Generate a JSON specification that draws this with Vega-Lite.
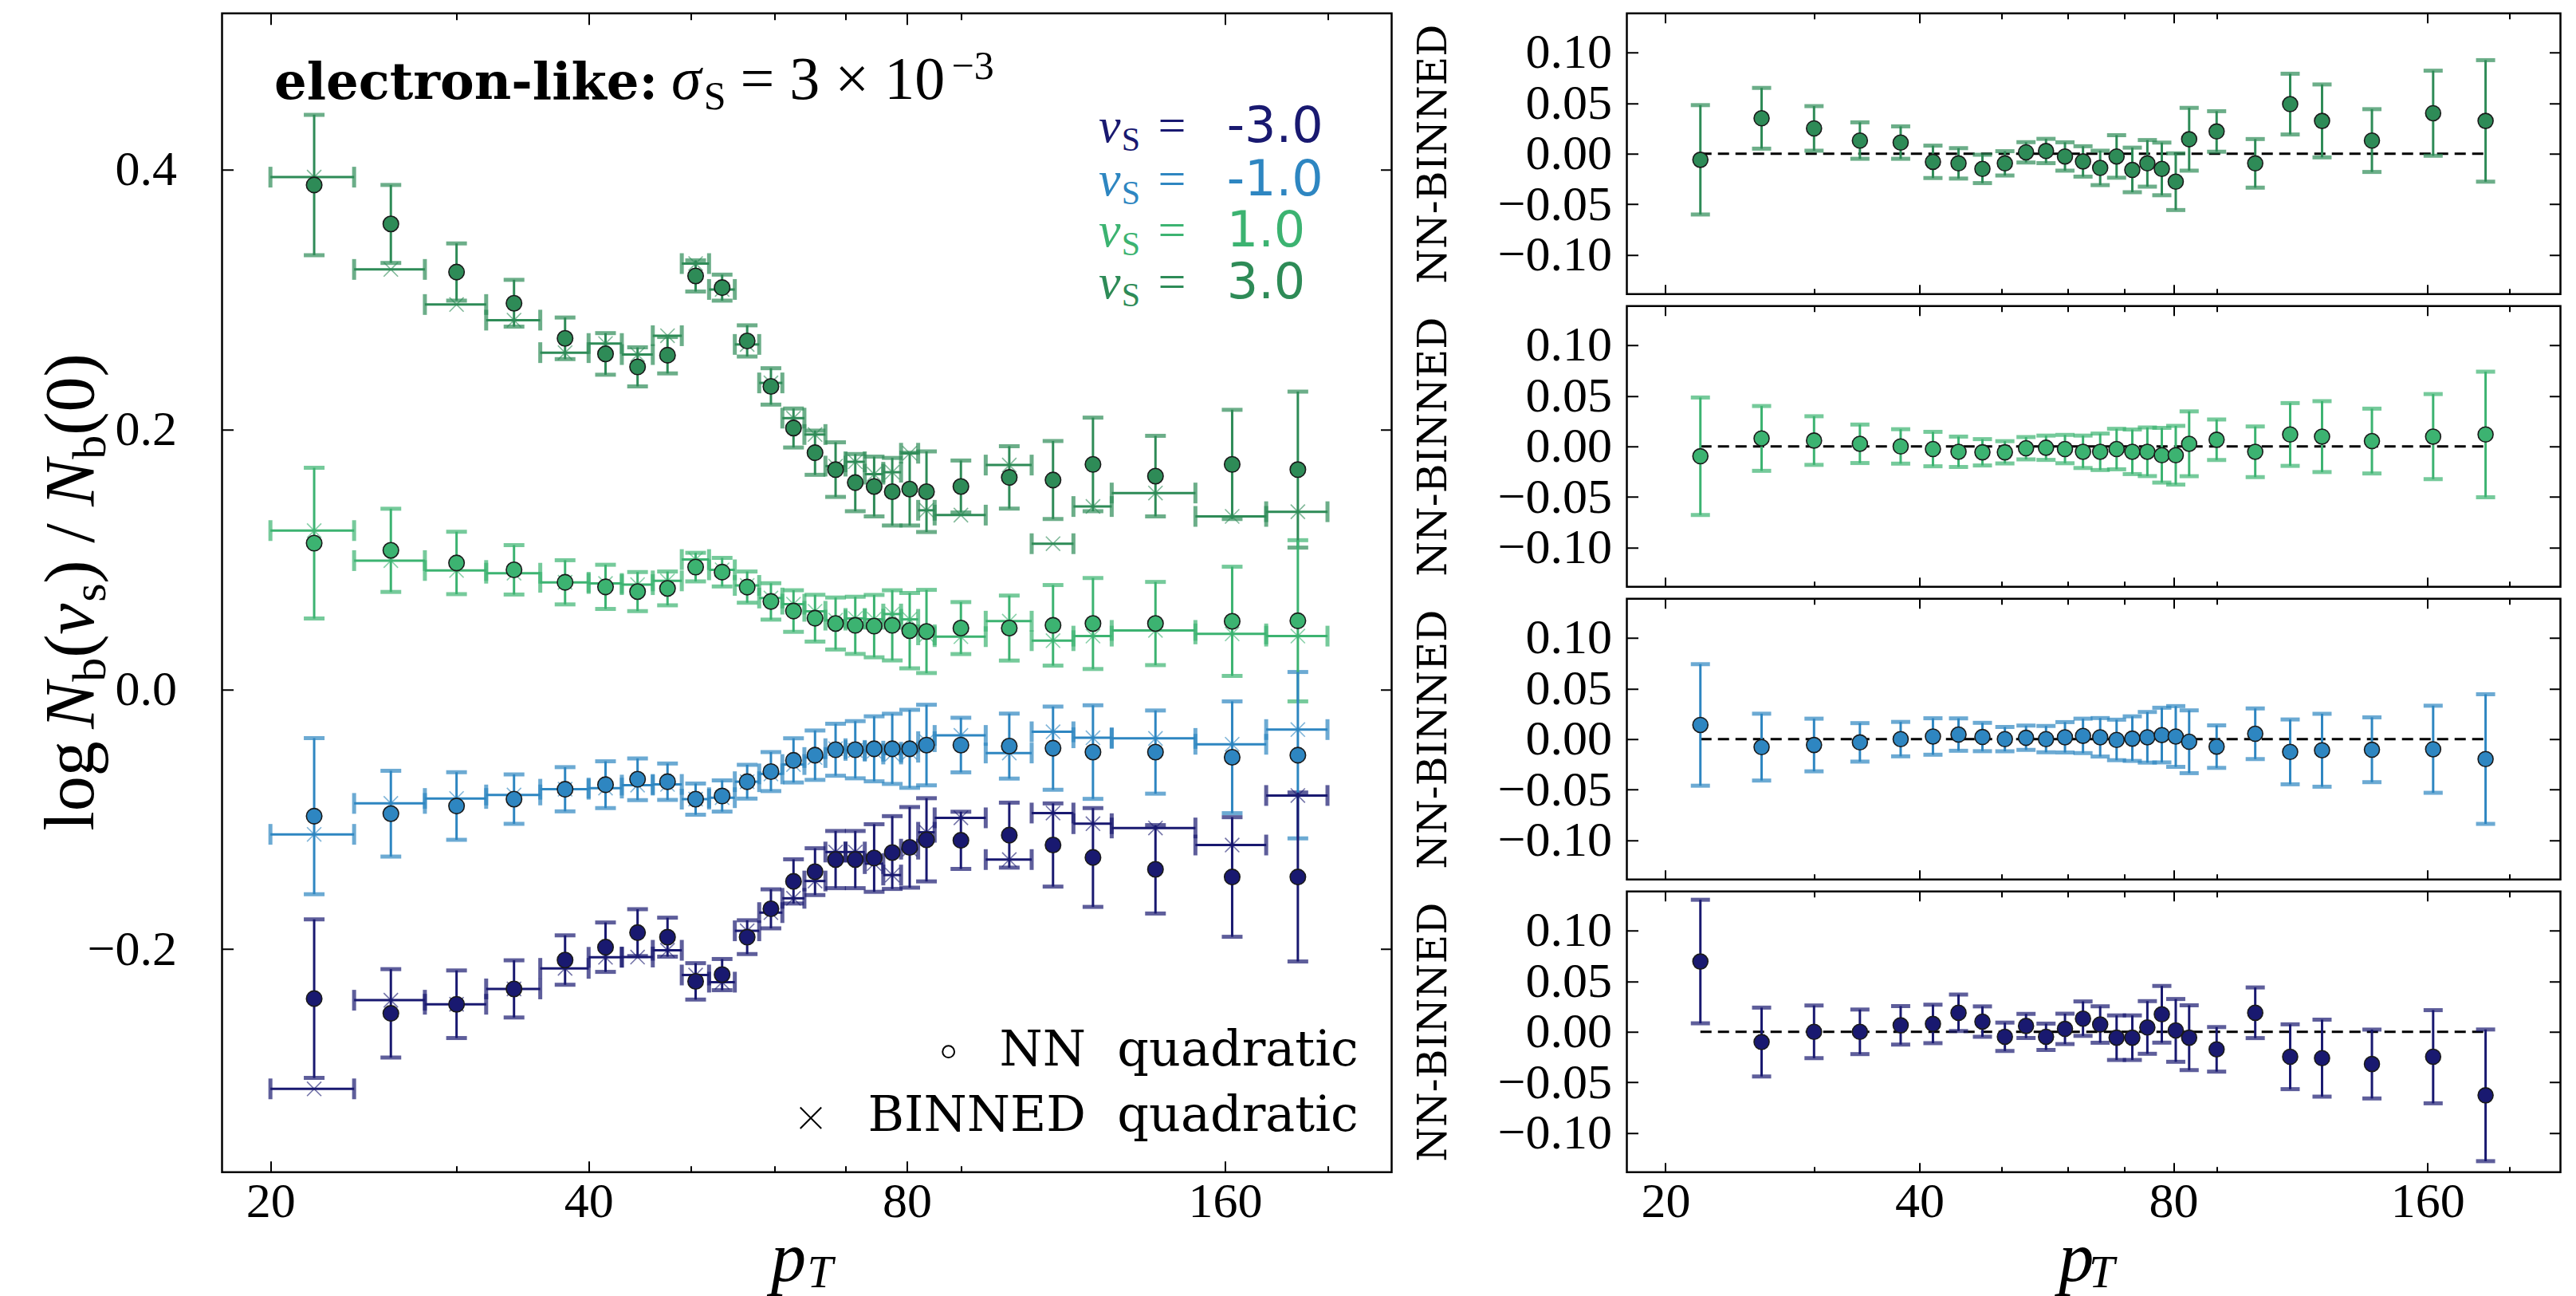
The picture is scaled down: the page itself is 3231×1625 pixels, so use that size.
{
"$schema":"https://vega.github.io/schema/vega-lite/v6.json",
"autosize":{"type":"pad"},
"padding":{"left":45.5,"top":13.75,"right":0,"bottom":0},
"background":"white",
"config":{"view":{"stroke":"black","strokeWidth":2.5}},
"datasets":{"d":[
{"s":"3.0","pt":22,"hw":2,"nn":0.388,"bin":0.394,"d":-0.006,"e":0.054},
{"s":"3.0","pt":26,"hw":2,"nn":0.358,"bin":0.323,"d":0.035,"e":0.030},
{"s":"3.0","pt":30,"hw":2,"nn":0.321,"bin":0.296,"d":0.025,"e":0.022},
{"s":"3.0","pt":34,"hw":2,"nn":0.297,"bin":0.284,"d":0.013,"e":0.018},
{"s":"3.0","pt":38,"hw":2,"nn":0.270,"bin":0.259,"d":0.011,"e":0.016},
{"s":"3.0","pt":41.5,"hw":1.5,"nn":0.258,"bin":0.266,"d":-0.008,"e":0.016},
{"s":"3.0","pt":44.5,"hw":1.5,"nn":0.248,"bin":0.2575,"d":-0.0095,"e":0.015},
{"s":"3.0","pt":47.5,"hw":1.5,"nn":0.257,"bin":0.272,"d":-0.015,"e":0.014},
{"s":"3.0","pt":50.5,"hw":1.5,"nn":0.318,"bin":0.3275,"d":-0.0095,"e":0.012},
{"s":"3.0","pt":53.5,"hw":1.5,"nn":0.309,"bin":0.3076,"d":0.0014,"e":0.010},
{"s":"3.0","pt":56.5,"hw":1.5,"nn":0.268,"bin":0.2653,"d":0.0027,"e":0.012},
{"s":"3.0","pt":59.5,"hw":1.5,"nn":0.233,"bin":0.2357,"d":-0.0027,"e":0.014},
{"s":"3.0","pt":62.5,"hw":1.5,"nn":0.201,"bin":0.2086,"d":-0.0076,"e":0.015},
{"s":"3.0","pt":65.5,"hw":1.5,"nn":0.182,"bin":0.196,"d":-0.014,"e":0.017},
{"s":"3.0","pt":68.5,"hw":1.5,"nn":0.169,"bin":0.1717,"d":-0.0027,"e":0.021},
{"s":"3.0","pt":71.5,"hw":1.5,"nn":0.159,"bin":0.175,"d":-0.016,"e":0.022},
{"s":"3.0","pt":74.5,"hw":1.5,"nn":0.156,"bin":0.1655,"d":-0.0095,"e":0.023},
{"s":"3.0","pt":77.5,"hw":1.5,"nn":0.152,"bin":0.167,"d":-0.015,"e":0.026},
{"s":"3.0","pt":80.5,"hw":1.5,"nn":0.154,"bin":0.1816,"d":-0.0276,"e":0.028},
{"s":"3.0","pt":83.5,"hw":1.5,"nn":0.152,"bin":0.1377,"d":0.0143,"e":0.031},
{"s":"3.0","pt":90,"hw":5,"nn":0.156,"bin":0.134,"d":0.022,"e":0.020},
{"s":"3.0","pt":100,"hw":5,"nn":0.163,"bin":0.1725,"d":-0.0095,"e":0.024},
{"s":"3.0","pt":110,"hw":5,"nn":0.161,"bin":0.112,"d":0.049,"e":0.030},
{"s":"3.0","pt":120,"hw":5,"nn":0.173,"bin":0.1406,"d":0.0324,"e":0.036},
{"s":"3.0","pt":137.5,"hw":12.5,"nn":0.164,"bin":0.151,"d":0.013,"e":0.031},
{"s":"3.0","pt":162.5,"hw":12.5,"nn":0.173,"bin":0.133,"d":0.040,"e":0.042},
{"s":"3.0","pt":187.5,"hw":12.5,"nn":0.169,"bin":0.1366,"d":0.0324,"e":0.060},
{"s":"1.0","pt":22,"hw":2,"nn":0.1124,"bin":0.1221,"d":-0.0097,"e":0.058},
{"s":"1.0","pt":26,"hw":2,"nn":0.1069,"bin":0.099,"d":0.0079,"e":0.032},
{"s":"1.0","pt":30,"hw":2,"nn":0.0972,"bin":0.0914,"d":0.0058,"e":0.024},
{"s":"1.0","pt":34,"hw":2,"nn":0.0919,"bin":0.0893,"d":0.0026,"e":0.019},
{"s":"1.0","pt":38,"hw":2,"nn":0.0823,"bin":0.0823,"d":0.0,"e":0.017},
{"s":"1.0","pt":41.5,"hw":1.5,"nn":0.0788,"bin":0.0814,"d":-0.0026,"e":0.017},
{"s":"1.0","pt":44.5,"hw":1.5,"nn":0.0752,"bin":0.0805,"d":-0.0053,"e":0.015},
{"s":"1.0","pt":47.5,"hw":1.5,"nn":0.0776,"bin":0.0834,"d":-0.0058,"e":0.013},
{"s":"1.0","pt":50.5,"hw":1.5,"nn":0.094,"bin":0.0998,"d":-0.0058,"e":0.011},
{"s":"1.0","pt":53.5,"hw":1.5,"nn":0.0901,"bin":0.0919,"d":-0.0018,"e":0.011},
{"s":"1.0","pt":56.5,"hw":1.5,"nn":0.0786,"bin":0.0799,"d":-0.0013,"e":0.012},
{"s":"1.0","pt":59.5,"hw":1.5,"nn":0.0676,"bin":0.0702,"d":-0.0026,"e":0.014},
{"s":"1.0","pt":62.5,"hw":1.5,"nn":0.0602,"bin":0.0655,"d":-0.0053,"e":0.016},
{"s":"1.0","pt":65.5,"hw":1.5,"nn":0.0547,"bin":0.06,"d":-0.0053,"e":0.018},
{"s":"1.0","pt":68.5,"hw":1.5,"nn":0.0506,"bin":0.0532,"d":-0.0026,"e":0.020},
{"s":"1.0","pt":71.5,"hw":1.5,"nn":0.0492,"bin":0.0545,"d":-0.0053,"e":0.022},
{"s":"1.0","pt":74.5,"hw":1.5,"nn":0.0486,"bin":0.0539,"d":-0.0053,"e":0.024},
{"s":"1.0","pt":77.5,"hw":1.5,"nn":0.0492,"bin":0.0579,"d":-0.0087,"e":0.027},
{"s":"1.0","pt":80.5,"hw":1.5,"nn":0.0451,"bin":0.0538,"d":-0.0087,"e":0.029},
{"s":"1.0","pt":83.5,"hw":1.5,"nn":0.0445,"bin":0.0419,"d":0.0026,"e":0.032},
{"s":"1.0","pt":90,"hw":5,"nn":0.0471,"bin":0.0405,"d":0.0066,"e":0.020},
{"s":"1.0","pt":100,"hw":5,"nn":0.0471,"bin":0.0524,"d":-0.0053,"e":0.025},
{"s":"1.0","pt":110,"hw":5,"nn":0.0492,"bin":0.0374,"d":0.0118,"e":0.031},
{"s":"1.0","pt":120,"hw":5,"nn":0.0506,"bin":0.0409,"d":0.0097,"e":0.035},
{"s":"1.0","pt":137.5,"hw":12.5,"nn":0.0506,"bin":0.0453,"d":0.0053,"e":0.032},
{"s":"1.0","pt":162.5,"hw":12.5,"nn":0.0523,"bin":0.0426,"d":0.0097,"e":0.042},
{"s":"1.0","pt":187.5,"hw":12.5,"nn":0.0527,"bin":0.0409,"d":0.0118,"e":0.062},
{"s":"-1.0","pt":22,"hw":2,"nn":-0.0976,"bin":-0.1116,"d":0.014,"e":0.060},
{"s":"-1.0","pt":26,"hw":2,"nn":-0.0957,"bin":-0.0878,"d":-0.0079,"e":0.033},
{"s":"-1.0","pt":30,"hw":2,"nn":-0.0898,"bin":-0.084,"d":-0.0058,"e":0.026},
{"s":"-1.0","pt":34,"hw":2,"nn":-0.0845,"bin":-0.0813,"d":-0.0032,"e":0.019},
{"s":"-1.0","pt":38,"hw":2,"nn":-0.0769,"bin":-0.0769,"d":0.0,"e":0.017},
{"s":"-1.0","pt":41.5,"hw":1.5,"nn":-0.0734,"bin":-0.076,"d":0.0026,"e":0.018},
{"s":"-1.0","pt":44.5,"hw":1.5,"nn":-0.0692,"bin":-0.0737,"d":0.0045,"e":0.016},
{"s":"-1.0","pt":47.5,"hw":1.5,"nn":-0.0711,"bin":-0.0732,"d":0.0021,"e":0.014},
{"s":"-1.0","pt":50.5,"hw":1.5,"nn":-0.0845,"bin":-0.0845,"d":0.0,"e":0.012},
{"s":"-1.0","pt":53.5,"hw":1.5,"nn":-0.0821,"bin":-0.0834,"d":0.0013,"e":0.012},
{"s":"-1.0","pt":56.5,"hw":1.5,"nn":-0.0711,"bin":-0.0711,"d":0.0,"e":0.013},
{"s":"-1.0","pt":59.5,"hw":1.5,"nn":-0.0633,"bin":-0.0651,"d":0.0018,"e":0.015},
{"s":"-1.0","pt":62.5,"hw":1.5,"nn":-0.0547,"bin":-0.0579,"d":0.0032,"e":0.017},
{"s":"-1.0","pt":65.5,"hw":1.5,"nn":-0.0507,"bin":-0.0525,"d":0.0018,"e":0.019},
{"s":"-1.0","pt":68.5,"hw":1.5,"nn":-0.0465,"bin":-0.0457,"d":-0.0008,"e":0.020},
{"s":"-1.0","pt":71.5,"hw":1.5,"nn":-0.0465,"bin":-0.047,"d":0.0005,"e":0.022},
{"s":"-1.0","pt":74.5,"hw":1.5,"nn":-0.0458,"bin":-0.0476,"d":0.0018,"e":0.025},
{"s":"-1.0","pt":77.5,"hw":1.5,"nn":-0.0458,"bin":-0.0498,"d":0.004,"e":0.027},
{"s":"-1.0","pt":80.5,"hw":1.5,"nn":-0.0458,"bin":-0.0484,"d":0.0026,"e":0.030},
{"s":"-1.0","pt":83.5,"hw":1.5,"nn":-0.0429,"bin":-0.0403,"d":-0.0026,"e":0.031},
{"s":"-1.0","pt":90,"hw":5,"nn":-0.0429,"bin":-0.0355,"d":-0.0074,"e":0.021},
{"s":"-1.0","pt":100,"hw":5,"nn":-0.0437,"bin":-0.049,"d":0.0053,"e":0.025},
{"s":"-1.0","pt":110,"hw":5,"nn":-0.0453,"bin":-0.0327,"d":-0.0126,"e":0.032},
{"s":"-1.0","pt":120,"hw":5,"nn":-0.0483,"bin":-0.0373,"d":-0.011,"e":0.036},
{"s":"-1.0","pt":137.5,"hw":12.5,"nn":-0.0483,"bin":-0.0378,"d":-0.0105,"e":0.032},
{"s":"-1.0","pt":162.5,"hw":12.5,"nn":-0.0523,"bin":-0.0423,"d":-0.010,"e":0.043},
{"s":"-1.0","pt":187.5,"hw":12.5,"nn":-0.0507,"bin":-0.031,"d":-0.0197,"e":0.064},
{"s":"-3.0","pt":22,"hw":2,"nn":-0.238,"bin":-0.3074,"d":0.0694,"e":0.061},
{"s":"-3.0","pt":26,"hw":2,"nn":-0.2493,"bin":-0.2392,"d":-0.0101,"e":0.034},
{"s":"-3.0","pt":30,"hw":2,"nn":-0.2423,"bin":-0.2423,"d":0.0,"e":0.026},
{"s":"-3.0","pt":34,"hw":2,"nn":-0.2305,"bin":-0.2305,"d":0.0,"e":0.022},
{"s":"-3.0","pt":38,"hw":2,"nn":-0.2083,"bin":-0.2147,"d":0.0064,"e":0.019},
{"s":"-3.0","pt":41.5,"hw":1.5,"nn":-0.1984,"bin":-0.2062,"d":0.0078,"e":0.019},
{"s":"-3.0","pt":44.5,"hw":1.5,"nn":-0.1872,"bin":-0.206,"d":0.0188,"e":0.018},
{"s":"-3.0","pt":47.5,"hw":1.5,"nn":-0.1907,"bin":-0.2008,"d":0.0101,"e":0.015},
{"s":"-3.0","pt":50.5,"hw":1.5,"nn":-0.2247,"bin":-0.2198,"d":-0.0049,"e":0.014},
{"s":"-3.0","pt":53.5,"hw":1.5,"nn":-0.2195,"bin":-0.2253,"d":0.0058,"e":0.012},
{"s":"-3.0","pt":56.5,"hw":1.5,"nn":-0.1907,"bin":-0.1858,"d":-0.0049,"e":0.013},
{"s":"-3.0","pt":59.5,"hw":1.5,"nn":-0.1689,"bin":-0.1718,"d":0.0029,"e":0.015},
{"s":"-3.0","pt":62.5,"hw":1.5,"nn":-0.1478,"bin":-0.1608,"d":0.013,"e":0.017},
{"s":"-3.0","pt":65.5,"hw":1.5,"nn":-0.1403,"bin":-0.1475,"d":0.0072,"e":0.018},
{"s":"-3.0","pt":68.5,"hw":1.5,"nn":-0.131,"bin":-0.1252,"d":-0.0058,"e":0.022},
{"s":"-3.0","pt":71.5,"hw":1.5,"nn":-0.131,"bin":-0.1252,"d":-0.0058,"e":0.022},
{"s":"-3.0","pt":74.5,"hw":1.5,"nn":-0.1298,"bin":-0.1341,"d":0.0043,"e":0.026},
{"s":"-3.0","pt":77.5,"hw":1.5,"nn":-0.1256,"bin":-0.1429,"d":0.0173,"e":0.028},
{"s":"-3.0","pt":80.5,"hw":1.5,"nn":-0.1216,"bin":-0.123,"d":0.0014,"e":0.031},
{"s":"-3.0","pt":83.5,"hw":1.5,"nn":-0.1158,"bin":-0.11,"d":-0.0058,"e":0.032},
{"s":"-3.0","pt":90,"hw":5,"nn":-0.1162,"bin":-0.0989,"d":-0.0173,"e":0.022},
{"s":"-3.0","pt":100,"hw":5,"nn":-0.1122,"bin":-0.131,"d":0.0188,"e":0.025},
{"s":"-3.0","pt":110,"hw":5,"nn":-0.1198,"bin":-0.0952,"d":-0.0246,"e":0.032},
{"s":"-3.0","pt":120,"hw":5,"nn":-0.1294,"bin":-0.1034,"d":-0.026,"e":0.038},
{"s":"-3.0","pt":137.5,"hw":12.5,"nn":-0.1385,"bin":-0.1067,"d":-0.0318,"e":0.034},
{"s":"-3.0","pt":162.5,"hw":12.5,"nn":-0.1444,"bin":-0.1198,"d":-0.0246,"e":0.046},
{"s":"-3.0","pt":187.5,"hw":12.5,"nn":-0.1444,"bin":-0.0817,"d":-0.0627,"e":0.065}
]},
"spacing":295,
"bounds":"flush",
"hconcat":[
{
"width":1467,"height":1453,
"data":{"name":"d"},
"layer":[
{"mark":{"type":"errorbar","ticks":{"size":26,"thickness":5},"size":26,"thickness":3},
 "encoding":{"x":{"field":"pt","type":"quantitative","scale":{"type":"log","domain":[18,230],"nice":false},"axis":null},
  "y":{"field":"nn","type":"quantitative","scale":{"domain":[-0.3715,0.52],"nice":false,"zero":false},"axis":null},
  "yError":{"field":"e"},
  "color":{"field":"s","type":"nominal","scale":{"domain":["-3.0","-1.0","1.0","3.0"],"range":["#191970","#2e86c1","#3cb371","#2e8b57"]},"legend":null}}},
{"mark":{"type":"errorbar","ticks":{"size":26,"thickness":5},"size":26,"thickness":3},
 "encoding":{"x":{"field":"pt","type":"quantitative","axis":null},"xError":{"field":"hw"},
  "y":{"field":"bin","type":"quantitative","axis":null},
  "color":{"field":"s","type":"nominal","legend":null}}},
{"mark":{"type":"point","shape":"M-1,-1L1,1M-1,1L1,-1","filled":false,"size":320,"strokeWidth":1.6,"opacity":0.6},
 "encoding":{"x":{"field":"pt","type":"quantitative","axis":{"orient":"top","values":[20,30,40,50,60,70,80,90,160,200],"labels":false,"title":null,"domain":false,"grid":false,"tickColor":"black","tickWidth":2,"tickSize":{"condition":{"test":"indexof([20,40,80,160], datum.value) >= 0","value":-14},"value":-8}}},
  "y":{"field":"bin","type":"quantitative","axis":{"orient":"right","values":[-0.2,0,0.2,0.4],"labels":false,"title":null,"domain":false,"grid":false,"tickColor":"black","tickWidth":2,"tickSize":-14}},
  "color":{"field":"s","type":"nominal","legend":null}}},
{"mark":{"type":"point","opacity":0},
 "encoding":{"x":{"field":"pt","type":"quantitative","axis":{"orient":"bottom","values":[20,30,40,50,60,70,80,90,160,200],"labels":false,"title":null,"domain":false,"grid":false,"tickColor":"black","tickWidth":2,"tickSize":{"condition":{"test":"indexof([20,40,80,160], datum.value) >= 0","value":-14},"value":-8}}},
  "y":{"field":"nn","type":"quantitative","axis":{"orient":"left","values":[-0.2,0,0.2,0.4],"labels":false,"title":null,"domain":false,"grid":false,"tickColor":"black","tickWidth":2,"tickSize":-14}}}},
{"mark":{"type":"point","shape":"circle","filled":true,"size":380,"stroke":"#1a1a1a","strokeWidth":1.6,"opacity":1},
 "encoding":{"x":{"field":"pt","type":"quantitative","scale":{"type":"log","domain":[18,230],"nice":false},
   "axis":{"orient":"bottom","values":[20,40,80,160],"format":"d","ticks":false,"tickSize":0,"labelPadding":0,"offset":7,"title":null,"domain":false,"grid":false,"labelFont":"Liberation Serif","labelFontSize":62,"labelColor":"black","labelFlush":false,"labelOverlap":false,"labelBound":false}},
  "y":{"field":"nn","type":"quantitative","scale":{"domain":[-0.3715,0.52],"nice":false,"zero":false},
   "axis":{"orient":"left","values":[-0.2,0,0.2,0.4],"format":".1f","ticks":false,"tickSize":0,"labelPadding":0,"offset":57,"title":null,"domain":false,"grid":false,"labelFont":"Liberation Serif","labelFontSize":62,"labelColor":"black","labelFlush":false,"labelOverlap":false}},
  "color":{"field":"s","type":"nominal","legend":null}}},
{"data":{"values":[{}]},"mark":{"type":"text","text":"electron-like:","font":"DejaVu Serif","fontWeight":"bold","fontSize":64,"align":"left","baseline":"alphabetic","color":"black"},
 "encoding":{"x":{"datum":20.17,"type":"quantitative","axis":null},"y":{"datum":0.4545,"type":"quantitative","axis":null}}},
{"data":{"values":[{}]},"mark":{"type":"text","text":"σ","font":"Liberation Serif","fontStyle":"italic","fontSize":76,"align":"left","baseline":"alphabetic","color":"black"},
 "encoding":{"x":{"datum":47.9,"type":"quantitative","axis":null},"y":{"datum":0.4545,"type":"quantitative","axis":null}}},
{"data":{"values":[{}]},"mark":{"type":"text","text":"S","font":"Liberation Serif","fontSize":50,"align":"left","baseline":"alphabetic","color":"black"},
 "encoding":{"x":{"datum":51.4,"type":"quantitative","axis":null},"y":{"datum":0.4463,"type":"quantitative","axis":null}}},
{"data":{"values":[{}]},"mark":{"type":"text","text":"= 3 × 10","font":"Liberation Serif","fontSize":76,"align":"left","baseline":"alphabetic","color":"black"},
 "encoding":{"x":{"datum":55.65,"type":"quantitative","axis":null},"y":{"datum":0.4545,"type":"quantitative","axis":null}}},
{"data":{"values":[{}]},"mark":{"type":"text","text":"−3","font":"Liberation Serif","fontSize":50,"align":"left","baseline":"alphabetic","color":"black"},
 "encoding":{"x":{"datum":88.2,"type":"quantitative","axis":null},"y":{"datum":0.4696,"type":"quantitative","axis":null}}},

{"data":{"values":[{}]},"mark":{"type":"text","text":"ν","font":"Liberation Serif","fontStyle":"italic","fontSize":62,"align":"left","baseline":"alphabetic","color":"#191970"},
 "encoding":{"x":{"datum":121.5,"type":"quantitative","axis":null},"y":{"datum":0.4212,"type":"quantitative","axis":null}}},
{"data":{"values":[{}]},"mark":{"type":"text","text":"S","font":"Liberation Serif","fontSize":42,"align":"left","baseline":"alphabetic","color":"#191970"},
 "encoding":{"x":{"datum":127.7,"type":"quantitative","axis":null},"y":{"datum":0.4145,"type":"quantitative","axis":null}}},
{"data":{"values":[{}]},"mark":{"type":"text","text":"=","font":"Liberation Serif","fontSize":62,"align":"left","baseline":"alphabetic","color":"#191970"},
 "encoding":{"x":{"datum":138.3,"type":"quantitative","axis":null},"y":{"datum":0.4212,"type":"quantitative","axis":null}}},
{"data":{"values":[{}]},"mark":{"type":"text","text":"-3.0","font":"DejaVu Sans","fontSize":62,"align":"left","baseline":"alphabetic","color":"#191970"},
 "encoding":{"x":{"datum":160.6,"type":"quantitative","axis":null},"y":{"datum":0.4212,"type":"quantitative","axis":null}}},

{"data":{"values":[{}]},"mark":{"type":"text","text":"ν","font":"Liberation Serif","fontStyle":"italic","fontSize":62,"align":"left","baseline":"alphabetic","color":"#2e86c1"},
 "encoding":{"x":{"datum":121.5,"type":"quantitative","axis":null},"y":{"datum":0.3802,"type":"quantitative","axis":null}}},
{"data":{"values":[{}]},"mark":{"type":"text","text":"S","font":"Liberation Serif","fontSize":42,"align":"left","baseline":"alphabetic","color":"#2e86c1"},
 "encoding":{"x":{"datum":127.7,"type":"quantitative","axis":null},"y":{"datum":0.3735,"type":"quantitative","axis":null}}},
{"data":{"values":[{}]},"mark":{"type":"text","text":"=","font":"Liberation Serif","fontSize":62,"align":"left","baseline":"alphabetic","color":"#2e86c1"},
 "encoding":{"x":{"datum":138.3,"type":"quantitative","axis":null},"y":{"datum":0.3802,"type":"quantitative","axis":null}}},
{"data":{"values":[{}]},"mark":{"type":"text","text":"-1.0","font":"DejaVu Sans","fontSize":62,"align":"left","baseline":"alphabetic","color":"#2e86c1"},
 "encoding":{"x":{"datum":160.6,"type":"quantitative","axis":null},"y":{"datum":0.3802,"type":"quantitative","axis":null}}},

{"data":{"values":[{}]},"mark":{"type":"text","text":"ν","font":"Liberation Serif","fontStyle":"italic","fontSize":62,"align":"left","baseline":"alphabetic","color":"#3cb371"},
 "encoding":{"x":{"datum":121.5,"type":"quantitative","axis":null},"y":{"datum":0.3408,"type":"quantitative","axis":null}}},
{"data":{"values":[{}]},"mark":{"type":"text","text":"S","font":"Liberation Serif","fontSize":42,"align":"left","baseline":"alphabetic","color":"#3cb371"},
 "encoding":{"x":{"datum":127.7,"type":"quantitative","axis":null},"y":{"datum":0.3341,"type":"quantitative","axis":null}}},
{"data":{"values":[{}]},"mark":{"type":"text","text":"=","font":"Liberation Serif","fontSize":62,"align":"left","baseline":"alphabetic","color":"#3cb371"},
 "encoding":{"x":{"datum":138.3,"type":"quantitative","axis":null},"y":{"datum":0.3408,"type":"quantitative","axis":null}}},
{"data":{"values":[{}]},"mark":{"type":"text","text":"1.0","font":"DejaVu Sans","fontSize":62,"align":"left","baseline":"alphabetic","color":"#3cb371"},
 "encoding":{"x":{"datum":160.6,"type":"quantitative","axis":null},"y":{"datum":0.3408,"type":"quantitative","axis":null}}},

{"data":{"values":[{}]},"mark":{"type":"text","text":"ν","font":"Liberation Serif","fontStyle":"italic","fontSize":62,"align":"left","baseline":"alphabetic","color":"#2e8b57"},
 "encoding":{"x":{"datum":121.5,"type":"quantitative","axis":null},"y":{"datum":0.3011,"type":"quantitative","axis":null}}},
{"data":{"values":[{}]},"mark":{"type":"text","text":"S","font":"Liberation Serif","fontSize":42,"align":"left","baseline":"alphabetic","color":"#2e8b57"},
 "encoding":{"x":{"datum":127.7,"type":"quantitative","axis":null},"y":{"datum":0.2944,"type":"quantitative","axis":null}}},
{"data":{"values":[{}]},"mark":{"type":"text","text":"=","font":"Liberation Serif","fontSize":62,"align":"left","baseline":"alphabetic","color":"#2e8b57"},
 "encoding":{"x":{"datum":138.3,"type":"quantitative","axis":null},"y":{"datum":0.3011,"type":"quantitative","axis":null}}},
{"data":{"values":[{}]},"mark":{"type":"text","text":"3.0","font":"DejaVu Sans","fontSize":62,"align":"left","baseline":"alphabetic","color":"#2e8b57"},
 "encoding":{"x":{"datum":160.6,"type":"quantitative","axis":null},"y":{"datum":0.3011,"type":"quantitative","axis":null}}},

{"data":{"values":[{}]},"mark":{"type":"point","shape":"circle","filled":false,"size":220,"stroke":"black","strokeWidth":2,"opacity":1},
 "encoding":{"x":{"datum":87.6,"type":"quantitative","axis":null},"y":{"datum":-0.2788,"type":"quantitative","axis":null}}},
{"data":{"values":[{}]},"mark":{"type":"text","text":"NN\u00a0\u00a0quadratic","font":"DejaVu Serif","fontSize":62,"align":"right","baseline":"alphabetic","color":"black"},
 "encoding":{"x":{"datum":213.9,"type":"quantitative","axis":null},"y":{"datum":-0.2895,"type":"quantitative","axis":null}}},
{"data":{"values":[{}]},"mark":{"type":"point","shape":"M-1,-1L1,1M-1,1L1,-1","filled":false,"size":700,"stroke":"black","strokeWidth":2,"opacity":1},
 "encoding":{"x":{"datum":64.9,"type":"quantitative","axis":null},"y":{"datum":-0.3298,"type":"quantitative","axis":null}}},
{"data":{"values":[{}]},"mark":{"type":"text","text":"BINNED\u00a0\u00a0quadratic","font":"DejaVu Serif","fontSize":62,"align":"right","baseline":"alphabetic","color":"black"},
 "encoding":{"x":{"datum":213.9,"type":"quantitative","axis":null},"y":{"datum":-0.3399,"type":"quantitative","axis":null}}},

{"data":{"values":[{}]},"mark":{"type":"text","text":"p","font":"Liberation Serif","fontStyle":"italic","fontSize":88,"align":"left","baseline":"alphabetic","color":"black"},
 "encoding":{"x":{"datum":59.5,"type":"quantitative","axis":null},"y":{"datum":-0.4549,"type":"quantitative","axis":null}}},
{"data":{"values":[{}]},"mark":{"type":"text","text":"T","font":"Liberation Serif","fontStyle":"italic","fontSize":58,"align":"left","baseline":"alphabetic","color":"black"},
 "encoding":{"x":{"datum":64.4,"type":"quantitative","axis":null},"y":{"datum":-0.4598,"type":"quantitative","axis":null}}},

{"data":{"values":[{}]},"mark":{"type":"text","text":"log","font":"Liberation Serif","fontSize":88,"align":"left","baseline":"alphabetic","angle":270,"color":"black"},
 "encoding":{"x":{"datum":13.6,"type":"quantitative","axis":null},"y":{"datum":-0.1089,"type":"quantitative","axis":null}}},
{"data":{"values":[{}]},"mark":{"type":"text","text":"N","font":"Liberation Serif","fontStyle":"italic","fontSize":88,"align":"left","baseline":"alphabetic","angle":270,"color":"black"},
 "encoding":{"x":{"datum":13.6,"type":"quantitative","axis":null},"y":{"datum":-0.0304,"type":"quantitative","axis":null}}},
{"data":{"values":[{}]},"mark":{"type":"text","text":"b","font":"Liberation Serif","fontSize":60,"align":"left","baseline":"alphabetic","angle":270,"color":"black"},
 "encoding":{"x":{"datum":13.96,"type":"quantitative","axis":null},"y":{"datum":0.0058,"type":"quantitative","axis":null}}},
{"data":{"values":[{}]},"mark":{"type":"text","text":"(","font":"Liberation Serif","fontSize":88,"align":"left","baseline":"alphabetic","angle":270,"color":"black"},
 "encoding":{"x":{"datum":13.6,"type":"quantitative","axis":null},"y":{"datum":0.0242,"type":"quantitative","axis":null}}},
{"data":{"values":[{}]},"mark":{"type":"text","text":"ν","font":"Liberation Serif","fontStyle":"italic","fontSize":88,"align":"left","baseline":"alphabetic","angle":270,"color":"black"},
 "encoding":{"x":{"datum":13.6,"type":"quantitative","axis":null},"y":{"datum":0.0420,"type":"quantitative","axis":null}}},
{"data":{"values":[{}]},"mark":{"type":"text","text":"s","font":"Liberation Serif","fontSize":60,"align":"left","baseline":"alphabetic","angle":270,"color":"black"},
 "encoding":{"x":{"datum":13.96,"type":"quantitative","axis":null},"y":{"datum":0.0672,"type":"quantitative","axis":null}}},
{"data":{"values":[{}]},"mark":{"type":"text","text":")","font":"Liberation Serif","fontSize":88,"align":"left","baseline":"alphabetic","angle":270,"color":"black"},
 "encoding":{"x":{"datum":13.6,"type":"quantitative","axis":null},"y":{"datum":0.0813,"type":"quantitative","axis":null}}},
{"data":{"values":[{}]},"mark":{"type":"text","text":"/","font":"Liberation Serif","fontSize":88,"align":"left","baseline":"alphabetic","angle":270,"color":"black"},
 "encoding":{"x":{"datum":13.6,"type":"quantitative","axis":null},"y":{"datum":0.1126,"type":"quantitative","axis":null}}},
{"data":{"values":[{}]},"mark":{"type":"text","text":"N","font":"Liberation Serif","fontStyle":"italic","fontSize":88,"align":"left","baseline":"alphabetic","angle":270,"color":"black"},
 "encoding":{"x":{"datum":13.6,"type":"quantitative","axis":null},"y":{"datum":0.1408,"type":"quantitative","axis":null}}},
{"data":{"values":[{}]},"mark":{"type":"text","text":"b","font":"Liberation Serif","fontSize":60,"align":"left","baseline":"alphabetic","angle":270,"color":"black"},
 "encoding":{"x":{"datum":13.96,"type":"quantitative","axis":null},"y":{"datum":0.1770,"type":"quantitative","axis":null}}},
{"data":{"values":[{}]},"mark":{"type":"text","text":"(0)","font":"Liberation Serif","fontSize":88,"align":"left","baseline":"alphabetic","angle":270,"color":"black"},
 "encoding":{"x":{"datum":13.6,"type":"quantitative","axis":null},"y":{"datum":0.1954,"type":"quantitative","axis":null}}}
],
"resolve":{"axis":{"x":"independent","y":"independent"}}
},
{
"spacing":15,
"bounds":"flush",
"vconcat":[
{"width":1171,"height":352,
 "layer":[
 {"data":{"values":[{}]},"mark":{"type":"rule","strokeDash":[14,8],"strokeWidth":3,"color":"black"},
  "encoding":{"x":{"datum":22,"type":"quantitative","axis":null},"x2":{"datum":187.5},"y":{"datum":0,"type":"quantitative","axis":null}}},
 {"data":{"name":"d"},"transform":[{"filter":"datum.s === '3.0'"}],
  "mark":{"type":"errorbar","ticks":{"size":24,"thickness":5},"size":24,"thickness":3,"color":"#2e8b57"},
  "encoding":{"x":{"field":"pt","type":"quantitative","axis":null},"y":{"field":"d","type":"quantitative","axis":null},"yError":{"field":"e"}}},
 {"data":{"name":"d"},"transform":[{"filter":"datum.s === '3.0'"}],
  "mark":{"type":"point","shape":"circle","filled":true,"size":360,"stroke":"#1a1a1a","strokeWidth":1.6,"color":"#2e8b57","opacity":1},
  "encoding":{"x":{"field":"pt","type":"quantitative","scale":{"type":"log","domain":[18,230],"nice":false},"axis":null},
   "y":{"field":"d","type":"quantitative","scale":{"domain":[-0.1386,0.1386],"nice":false,"zero":false},
    "axis":{"orient":"left","values":[-0.1,-0.05,0,0.05,0.1],"format":".2f","title":"NN-BINNED","titleFont":"DejaVu Serif","titleFontSize":50,"titleFontWeight":"normal","titleColor":"black","titleBaseline":"alphabetic","titleX":-208,"titleY":176,"domain":false,"grid":false,"ticks":false,"tickSize":0,"labelPadding":0,"offset":19,"labelFont":"Liberation Serif","labelFontSize":62,"labelColor":"black","labelFlush":false,"labelOverlap":false}}}},
 {"data":{"name":"d"},"transform":[{"filter":"datum.s === '3.0'"}],
  "mark":{"type":"point","opacity":0},
  "encoding":{"x":{"field":"pt","type":"quantitative","axis":{"orient":"top","values":[20,30,40,50,60,70,80,90,160,200],"labels":false,"title":null,"domain":false,"grid":false,"tickColor":"black","tickWidth":2,"tickSize":{"condition":{"test":"indexof([20,40,80,160], datum.value) >= 0","value":-12},"value":-7}}},
   "y":{"field":"d","type":"quantitative","axis":{"orient":"right","values":[-0.1,-0.05,0,0.05,0.1],"labels":false,"title":null,"domain":false,"grid":false,"tickColor":"black","tickWidth":2,"tickSize":-14}}}},
 {"data":{"name":"d"},"transform":[{"filter":"datum.s === '3.0'"}],
  "mark":{"type":"point","opacity":0},
  "encoding":{"x":{"field":"pt","type":"quantitative","axis":{"orient":"bottom","values":[20,30,40,50,60,70,80,90,160,200],"labels":false,"title":null,"domain":false,"grid":false,"tickColor":"black","tickWidth":2,"tickSize":{"condition":{"test":"indexof([20,40,80,160], datum.value) >= 0","value":-12},"value":-7}}},
   "y":{"field":"d","type":"quantitative","axis":{"orient":"left","values":[-0.1,-0.05,0,0.05,0.1],"labels":false,"title":null,"domain":false,"grid":false,"tickColor":"black","tickWidth":2,"tickSize":-14}}}}
 ],
 "resolve":{"axis":{"x":"independent","y":"independent"}}},
{"width":1171,"height":352,
 "layer":[
 {"data":{"values":[{}]},"mark":{"type":"rule","strokeDash":[14,8],"strokeWidth":3,"color":"black"},
  "encoding":{"x":{"datum":22,"type":"quantitative","axis":null},"x2":{"datum":187.5},"y":{"datum":0,"type":"quantitative","axis":null}}},
 {"data":{"name":"d"},"transform":[{"filter":"datum.s === '1.0'"}],
  "mark":{"type":"errorbar","ticks":{"size":24,"thickness":5},"size":24,"thickness":3,"color":"#3cb371"},
  "encoding":{"x":{"field":"pt","type":"quantitative","axis":null},"y":{"field":"d","type":"quantitative","axis":null},"yError":{"field":"e"}}},
 {"data":{"name":"d"},"transform":[{"filter":"datum.s === '1.0'"}],
  "mark":{"type":"point","shape":"circle","filled":true,"size":360,"stroke":"#1a1a1a","strokeWidth":1.6,"color":"#3cb371","opacity":1},
  "encoding":{"x":{"field":"pt","type":"quantitative","scale":{"type":"log","domain":[18,230],"nice":false},"axis":null},
   "y":{"field":"d","type":"quantitative","scale":{"domain":[-0.1386,0.1386],"nice":false,"zero":false},
    "axis":{"orient":"left","values":[-0.1,-0.05,0,0.05,0.1],"format":".2f","title":"NN-BINNED","titleFont":"DejaVu Serif","titleFontSize":50,"titleFontWeight":"normal","titleColor":"black","titleBaseline":"alphabetic","titleX":-208,"titleY":176,"domain":false,"grid":false,"ticks":false,"tickSize":0,"labelPadding":0,"offset":19,"labelFont":"Liberation Serif","labelFontSize":62,"labelColor":"black","labelFlush":false,"labelOverlap":false}}}},
 {"data":{"name":"d"},"transform":[{"filter":"datum.s === '1.0'"}],
  "mark":{"type":"point","opacity":0},
  "encoding":{"x":{"field":"pt","type":"quantitative","axis":{"orient":"top","values":[20,30,40,50,60,70,80,90,160,200],"labels":false,"title":null,"domain":false,"grid":false,"tickColor":"black","tickWidth":2,"tickSize":{"condition":{"test":"indexof([20,40,80,160], datum.value) >= 0","value":-12},"value":-7}}},
   "y":{"field":"d","type":"quantitative","axis":{"orient":"right","values":[-0.1,-0.05,0,0.05,0.1],"labels":false,"title":null,"domain":false,"grid":false,"tickColor":"black","tickWidth":2,"tickSize":-14}}}},
 {"data":{"name":"d"},"transform":[{"filter":"datum.s === '1.0'"}],
  "mark":{"type":"point","opacity":0},
  "encoding":{"x":{"field":"pt","type":"quantitative","axis":{"orient":"bottom","values":[20,30,40,50,60,70,80,90,160,200],"labels":false,"title":null,"domain":false,"grid":false,"tickColor":"black","tickWidth":2,"tickSize":{"condition":{"test":"indexof([20,40,80,160], datum.value) >= 0","value":-12},"value":-7}}},
   "y":{"field":"d","type":"quantitative","axis":{"orient":"left","values":[-0.1,-0.05,0,0.05,0.1],"labels":false,"title":null,"domain":false,"grid":false,"tickColor":"black","tickWidth":2,"tickSize":-14}}}}
 ],
 "resolve":{"axis":{"x":"independent","y":"independent"}}},
{"width":1171,"height":352,
 "layer":[
 {"data":{"values":[{}]},"mark":{"type":"rule","strokeDash":[14,8],"strokeWidth":3,"color":"black"},
  "encoding":{"x":{"datum":22,"type":"quantitative","axis":null},"x2":{"datum":187.5},"y":{"datum":0,"type":"quantitative","axis":null}}},
 {"data":{"name":"d"},"transform":[{"filter":"datum.s === '-1.0'"}],
  "mark":{"type":"errorbar","ticks":{"size":24,"thickness":5},"size":24,"thickness":3,"color":"#2e86c1"},
  "encoding":{"x":{"field":"pt","type":"quantitative","axis":null},"y":{"field":"d","type":"quantitative","axis":null},"yError":{"field":"e"}}},
 {"data":{"name":"d"},"transform":[{"filter":"datum.s === '-1.0'"}],
  "mark":{"type":"point","shape":"circle","filled":true,"size":360,"stroke":"#1a1a1a","strokeWidth":1.6,"color":"#2e86c1","opacity":1},
  "encoding":{"x":{"field":"pt","type":"quantitative","scale":{"type":"log","domain":[18,230],"nice":false},"axis":null},
   "y":{"field":"d","type":"quantitative","scale":{"domain":[-0.1386,0.1386],"nice":false,"zero":false},
    "axis":{"orient":"left","values":[-0.1,-0.05,0,0.05,0.1],"format":".2f","title":"NN-BINNED","titleFont":"DejaVu Serif","titleFontSize":50,"titleFontWeight":"normal","titleColor":"black","titleBaseline":"alphabetic","titleX":-208,"titleY":176,"domain":false,"grid":false,"ticks":false,"tickSize":0,"labelPadding":0,"offset":19,"labelFont":"Liberation Serif","labelFontSize":62,"labelColor":"black","labelFlush":false,"labelOverlap":false}}}},
 {"data":{"name":"d"},"transform":[{"filter":"datum.s === '-1.0'"}],
  "mark":{"type":"point","opacity":0},
  "encoding":{"x":{"field":"pt","type":"quantitative","axis":{"orient":"top","values":[20,30,40,50,60,70,80,90,160,200],"labels":false,"title":null,"domain":false,"grid":false,"tickColor":"black","tickWidth":2,"tickSize":{"condition":{"test":"indexof([20,40,80,160], datum.value) >= 0","value":-12},"value":-7}}},
   "y":{"field":"d","type":"quantitative","axis":{"orient":"right","values":[-0.1,-0.05,0,0.05,0.1],"labels":false,"title":null,"domain":false,"grid":false,"tickColor":"black","tickWidth":2,"tickSize":-14}}}},
 {"data":{"name":"d"},"transform":[{"filter":"datum.s === '-1.0'"}],
  "mark":{"type":"point","opacity":0},
  "encoding":{"x":{"field":"pt","type":"quantitative","axis":{"orient":"bottom","values":[20,30,40,50,60,70,80,90,160,200],"labels":false,"title":null,"domain":false,"grid":false,"tickColor":"black","tickWidth":2,"tickSize":{"condition":{"test":"indexof([20,40,80,160], datum.value) >= 0","value":-12},"value":-7}}},
   "y":{"field":"d","type":"quantitative","axis":{"orient":"left","values":[-0.1,-0.05,0,0.05,0.1],"labels":false,"title":null,"domain":false,"grid":false,"tickColor":"black","tickWidth":2,"tickSize":-14}}}}
 ],
 "resolve":{"axis":{"x":"independent","y":"independent"}}},
{"width":1171,"height":352,
 "layer":[
 {"data":{"values":[{}]},"mark":{"type":"rule","strokeDash":[14,8],"strokeWidth":3,"color":"black"},
  "encoding":{"x":{"datum":22,"type":"quantitative","axis":null},"x2":{"datum":187.5},"y":{"datum":0,"type":"quantitative","axis":null}}},
 {"data":{"name":"d"},"transform":[{"filter":"datum.s === '-3.0'"}],
  "mark":{"type":"errorbar","ticks":{"size":24,"thickness":5},"size":24,"thickness":3,"color":"#191970"},
  "encoding":{"x":{"field":"pt","type":"quantitative","axis":null},"y":{"field":"d","type":"quantitative","axis":null},"yError":{"field":"e"}}},
 {"data":{"name":"d"},"transform":[{"filter":"datum.s === '-3.0'"}],
  "mark":{"type":"point","shape":"circle","filled":true,"size":360,"stroke":"#1a1a1a","strokeWidth":1.6,"color":"#191970","opacity":1},
  "encoding":{"x":{"field":"pt","type":"quantitative","scale":{"type":"log","domain":[18,230],"nice":false},
    "axis":{"orient":"bottom","values":[20,40,80,160],"format":"d","ticks":false,"tickSize":0,"labelPadding":0,"offset":7,"title":null,"domain":false,"grid":false,"labelFont":"Liberation Serif","labelFontSize":62,"labelColor":"black","labelFlush":false,"labelOverlap":false,"labelBound":false}},
   "y":{"field":"d","type":"quantitative","scale":{"domain":[-0.1386,0.1386],"nice":false,"zero":false},
    "axis":{"orient":"left","values":[-0.1,-0.05,0,0.05,0.1],"format":".2f","title":"NN-BINNED","titleFont":"DejaVu Serif","titleFontSize":50,"titleFontWeight":"normal","titleColor":"black","titleBaseline":"alphabetic","titleX":-208,"titleY":176,"domain":false,"grid":false,"ticks":false,"tickSize":0,"labelPadding":0,"offset":19,"labelFont":"Liberation Serif","labelFontSize":62,"labelColor":"black","labelFlush":false,"labelOverlap":false}}}},
 {"data":{"name":"d"},"transform":[{"filter":"datum.s === '-3.0'"}],
  "mark":{"type":"point","opacity":0},
  "encoding":{"x":{"field":"pt","type":"quantitative","axis":{"orient":"top","values":[20,30,40,50,60,70,80,90,160,200],"labels":false,"title":null,"domain":false,"grid":false,"tickColor":"black","tickWidth":2,"tickSize":{"condition":{"test":"indexof([20,40,80,160], datum.value) >= 0","value":-12},"value":-7}}},
   "y":{"field":"d","type":"quantitative","axis":{"orient":"right","values":[-0.1,-0.05,0,0.05,0.1],"labels":false,"title":null,"domain":false,"grid":false,"tickColor":"black","tickWidth":2,"tickSize":-14}}}},
 {"data":{"name":"d"},"transform":[{"filter":"datum.s === '-3.0'"}],
  "mark":{"type":"point","opacity":0},
  "encoding":{"x":{"field":"pt","type":"quantitative","axis":{"orient":"bottom","values":[20,30,40,50,60,70,80,90,160,200],"labels":false,"title":null,"domain":false,"grid":false,"tickColor":"black","tickWidth":2,"tickSize":{"condition":{"test":"indexof([20,40,80,160], datum.value) >= 0","value":-12},"value":-7}}},
   "y":{"field":"d","type":"quantitative","axis":{"orient":"left","values":[-0.1,-0.05,0,0.05,0.1],"labels":false,"title":null,"domain":false,"grid":false,"tickColor":"black","tickWidth":2,"tickSize":-14}}}},
 {"data":{"values":[{}]},"mark":{"type":"text","text":"p","font":"Liberation Serif","fontStyle":"italic","fontSize":88,"align":"left","baseline":"alphabetic","color":"black"},
  "encoding":{"x":{"datum":58.5,"type":"quantitative","axis":null},"y":{"datum":-0.2457,"type":"quantitative","axis":null}}},
 {"data":{"values":[{}]},"mark":{"type":"text","text":"T","font":"Liberation Serif","fontStyle":"italic","fontSize":58,"align":"left","baseline":"alphabetic","color":"black"},
  "encoding":{"x":{"datum":63.5,"type":"quantitative","axis":null},"y":{"datum":-0.252,"type":"quantitative","axis":null}}}
 ],
 "resolve":{"axis":{"x":"independent","y":"independent"}}}
]
}
]
}
